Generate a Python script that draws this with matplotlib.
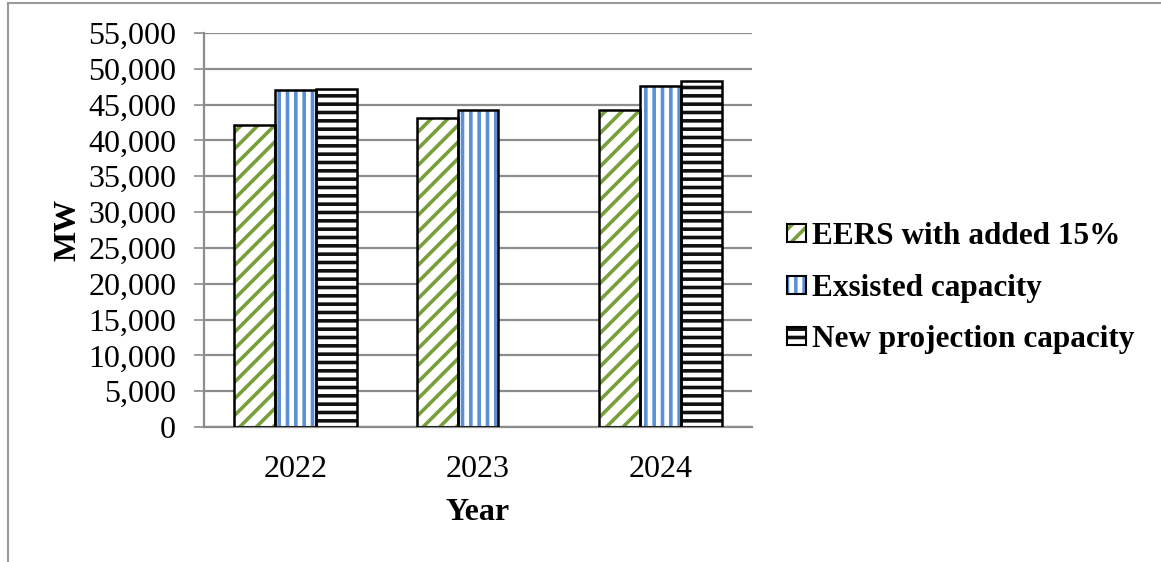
import numpy as np
import matplotlib.pyplot as plt
from matplotlib.lines import Line2D

years = ['2022', '2023', '2024']
eers = [42100, 43200, 44250]
existed = [47050, 44250, 47650]
new_proj = [47200, np.nan, 48350]
labels = ['EERS with added 15%', 'Exsisted capacity', 'New projection capacity']
hatch_colors = ['#77a03a', '#5b8fd6', '#111111']
hatches = ['//', '||', '--']

plt.rcParams['font.family'] = ['Liberation Serif', 'DejaVu Serif']
plt.rcParams['hatch.linewidth'] = 2.6

fig = plt.figure(figsize=(11.61, 5.62), dpi=100)
ax = fig.add_axes([0.1757, 0.2402, 0.4720, 0.7011])

x = np.arange(len(years))
w = 0.224
handles = []
for i, vals in enumerate([eers, existed, new_proj]):
    pos = x + (i - 1) * w
    # hatched fill, then a black outline on top
    ax.bar(pos, vals, w, color='white', edgecolor=hatch_colors[i],
           hatch=hatches[i], linewidth=0, zorder=2)
    ax.bar(pos, vals, w, fill=False, edgecolor='black', linewidth=1.8, zorder=3)
    p1 = plt.Rectangle((0, 0), 1, 1, facecolor='white', edgecolor=hatch_colors[i],
                       hatch=hatches[i], linewidth=0)
    p2 = plt.Rectangle((0, 0), 1, 1, fill=False, edgecolor='black', linewidth=1.5)
    handles.append((p1, p2))

ax.set_xlim(-0.5, 2.5)
ax.set_ylim(0, 55000)
ax.set_yticks(np.arange(0, 55001, 5000))
ax.set_yticklabels([f'{v:,}' for v in range(0, 55001, 5000)])
ax.set_xticks(x)
ax.set_xticklabels(years)
ax.tick_params(axis='y', labelsize=23, length=7, width=1.2, color='#8c8c8c', pad=13)
ax.tick_params(axis='x', labelsize=23, length=0, pad=20)
ax.grid(axis='y', color='#8c8c8c', linewidth=1.6, zorder=0)
ax.set_axisbelow(True)
for s in ['top', 'right']:
    ax.spines[s].set_visible(False)
for s in ['left', 'bottom']:
    ax.spines[s].set_color('#8c8c8c')
    ax.spines[s].set_linewidth(1.6)

ax.set_ylabel('MW', fontsize=23, fontweight='bold', labelpad=4)
ax.set_xlabel('Year', fontsize=23, fontweight='bold', labelpad=10)

fig.legend(handles, labels, loc='center left', bbox_to_anchor=(0.654, 0.487),
           frameon=False, prop={'size': 22.5, 'weight': 'bold'},
           handlelength=0.6, handleheight=0.5, handletextpad=0.2, labelspacing=0.72)

# outer frame (left and top edges)
fig.add_artist(Line2D([0.0065, 0.0065], [0, 0.995], color='#9a9a9a', linewidth=1.5))
fig.add_artist(Line2D([0.0065, 1], [0.995, 0.995], color='#9a9a9a', linewidth=1.5))

fig.savefig('out.png', dpi=100)
